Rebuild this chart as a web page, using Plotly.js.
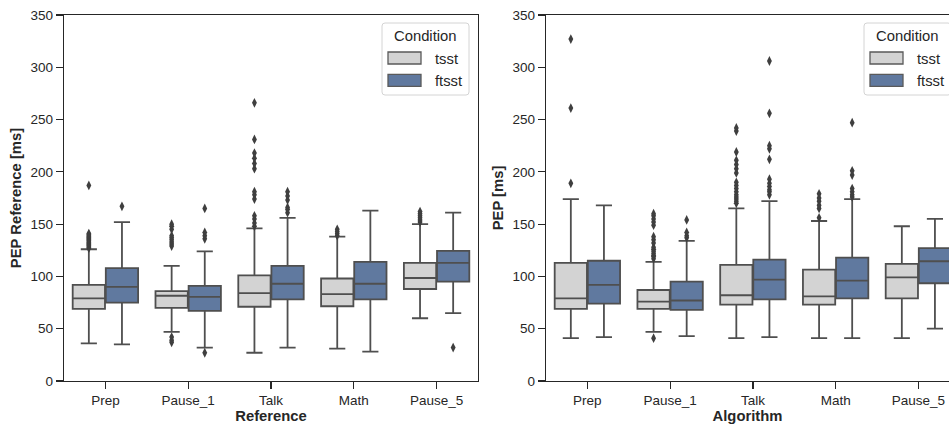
<!DOCTYPE html>
<html>
<head>
<meta charset="utf-8">
<script src="https://cdn.plot.ly/plotly-3.0.1.min.js"></script>
<style>
  html, body { margin: 0; padding: 0; background: #ffffff; }
  #chart { width: 949px; height: 428px; }
</style>
</head>
<body>
<div id="chart"></div>
<script>
// Phases of the protocol (x categories) and the two stress conditions
const categories = ['Prep', 'Pause_1', 'Talk', 'Math', 'Pause_5'];
const conditions = ['tsst', 'ftsst'];

// ---- Left panel: PEP from the reference, per phase ----
const refTsstLower  = [36, 47, 27, 31, 60];
const refTsstQ1     = [69, 70, 71, 71.5, 88];
const refTsstMedian = [79, 81.5, 84, 83, 98.5];
const refTsstQ3     = [92, 86, 101, 98, 113];
const refTsstUpper  = [126, 110, 146, 138, 150];
const refTsstOutliers = [
  [127, 128, 129, 130, 131, 132, 133, 134, 135, 136, 137, 138, 139, 140, 141, 187],
  [37, 39, 42, 129, 131, 133, 135, 137, 139, 145, 148, 150],
  [148, 151, 155, 158, 174, 178, 181, 203, 208, 213, 218, 231, 266],
  [139, 141, 143, 145],
  [152, 154, 156, 158, 160, 162]
];

const refFtsstLower  = [35, 32, 32, 28, 65];
const refFtsstQ1     = [75, 67, 78, 78, 95];
const refFtsstMedian = [90, 80.5, 93, 93, 113];
const refFtsstQ3     = [108, 91, 110, 114, 124.5];
const refFtsstUpper  = [152, 124, 156, 163, 161];
const refFtsstOutliers = [
  [167],
  [27, 136, 139, 142, 165],
  [161, 164, 166, 173, 177, 181],
  [],
  [32]
];

// ---- Right panel: PEP from the algorithm, per phase ----
const algTsstLower  = [41, 47, 41, 41, 41];
const algTsstQ1     = [69, 69, 73, 73, 79];
const algTsstMedian = [79, 76, 82, 81, 99];
const algTsstQ3     = [113, 87, 111, 106.5, 112];
const algTsstUpper  = [174, 114, 165, 153, 148];
const algTsstOutliers = [
  [189, 261, 327],
  [41, 117, 119, 120, 122, 124, 126, 128, 132, 135, 138, 149, 152, 155, 158, 160],
  [170, 172, 174, 176, 178, 181, 184, 187, 190, 199, 203, 207, 211, 219, 239, 242],
  [156, 165, 168, 172, 175, 179],
  []
];

const algFtsstLower  = [42, 43, 42, 41, 50];
const algFtsstQ1     = [74, 68, 78, 79, 93.5];
const algFtsstMedian = [92, 77, 97, 96, 114.5];
const algFtsstQ3     = [115, 95, 116, 118, 127];
const algFtsstUpper  = [168, 134, 172, 174, 155];
const algFtsstOutliers = [
  [],
  [137, 139, 142, 154],
  [178, 181, 183, 186, 189, 193, 212, 222, 225, 256, 306],
  [176, 178, 181, 184, 197, 201, 247],
  []
];

// ---- Styling ----
const W = 949, H = 428;
const FONT = 'Liberation Sans, Arial, Helvetica, sans-serif';
const TEXT = '#262626';
const EDGE = '#4f4f4f';
const FILLS = { tsst: '#d3d3d3', ftsst: '#60799f' };
const OFFSET = { tsst: -0.2, ftsst: 0.2 };

const px = x => x / W;          // pixel -> paper x
const py = y => 1 - y / H;      // pixel -> paper y

function boxTrace(cond, xa, ya, lower, q1, med, q3, upper) {
  return {
    type: 'box',
    name: cond,
    x: categories.map((_, i) => i + OFFSET[cond]),
    lowerfence: lower, q1: q1, median: med, q3: q3, upperfence: upper,
    width: 0.39,
    whiskerwidth: 0.5,
    boxpoints: false,
    fillcolor: FILLS[cond],
    line: { color: EDGE, width: 1.8 },
    xaxis: xa, yaxis: ya,
    showlegend: false,
    hoverinfo: 'skip'
  };
}

function outlierTrace(cond, xa, ya, outliers) {
  const xs = [], ys = [];
  outliers.forEach((vals, i) => vals.forEach(v => { xs.push(i + OFFSET[cond]); ys.push(v); }));
  return {
    type: 'scatter', mode: 'markers',
    x: xs, y: ys,
    marker: { symbol: 'diamond-tall', size: 7, color: '#3f3f3f', line: { width: 0 } },
    xaxis: xa, yaxis: ya,
    showlegend: false, hoverinfo: 'skip', cliponaxis: true
  };
}

const traces = [
  boxTrace('tsst', 'x', 'y', refTsstLower, refTsstQ1, refTsstMedian, refTsstQ3, refTsstUpper),
  boxTrace('ftsst', 'x', 'y', refFtsstLower, refFtsstQ1, refFtsstMedian, refFtsstQ3, refFtsstUpper),
  outlierTrace('tsst', 'x', 'y', refTsstOutliers),
  outlierTrace('ftsst', 'x', 'y', refFtsstOutliers),
  boxTrace('tsst', 'x2', 'y2', algTsstLower, algTsstQ1, algTsstMedian, algTsstQ3, algTsstUpper),
  boxTrace('ftsst', 'x2', 'y2', algFtsstLower, algFtsstQ1, algFtsstMedian, algFtsstQ3, algFtsstUpper),
  outlierTrace('tsst', 'x2', 'y2', algTsstOutliers),
  outlierTrace('ftsst', 'x2', 'y2', algFtsstOutliers)
];

const yDomain = [1 - 381 / H, 1 - 15 / H];

function xAxis(domain, range, title) {
  return {
    domain: domain, range: range, type: 'linear',
    tickvals: categories.map((_, i) => i), ticktext: categories,
    showline: true, mirror: true, linecolor: TEXT, linewidth: 1.25,
    ticks: 'outside', ticklen: 7, tickwidth: 1.25, tickcolor: TEXT,
    showgrid: false, zeroline: false, fixedrange: true,
    tickfont: { family: FONT, size: 13.5, color: TEXT },
    title: { text: title, font: { family: FONT, size: 14.8, color: TEXT, weight: 'bold' }, standoff: 2 }
  };
}
function yAxis(anchor, title) {
  return {
    domain: yDomain, range: [0, 350], anchor: anchor,
    tickvals: [0, 50, 100, 150, 200, 250, 300, 350],
    showline: true, mirror: true, linecolor: TEXT, linewidth: 1.25,
    ticks: 'outside', ticklen: 7, tickwidth: 1.25, tickcolor: TEXT,
    showgrid: false, zeroline: false, fixedrange: true,
    tickfont: { family: FONT, size: 13.5, color: TEXT },
    title: { text: title, font: { family: FONT, size: 14.8, color: TEXT, weight: 'bold' }, standoff: 5 }
  };
}

// Legend box ("Condition") for each panel, placed in pixels from its left edge
const shapes = [], annotations = [];
function legendAt(x0) {
  const left = x0, right = x0 + 87, top = 23, bottom = 95, r = 3;
  const path = [
    `M${px(left + r)},${py(top)}`, `L${px(right - r)},${py(top)}`,
    `Q${px(right)},${py(top)} ${px(right)},${py(top + r)}`,
    `L${px(right)},${py(bottom - r)}`,
    `Q${px(right)},${py(bottom)} ${px(right - r)},${py(bottom)}`,
    `L${px(left + r)},${py(bottom)}`,
    `Q${px(left)},${py(bottom)} ${px(left)},${py(bottom - r)}`,
    `L${px(left)},${py(top + r)}`,
    `Q${px(left)},${py(top)} ${px(left + r)},${py(top)}`, 'Z'
  ].join(' ');
  shapes.push({ type: 'path', xref: 'paper', yref: 'paper', path: path,
    fillcolor: 'rgba(255,255,255,0.8)', line: { color: '#d4d4d4', width: 1 }, layer: 'above' });
  annotations.push({ xref: 'paper', yref: 'paper', x: px(x0 + 43.7), y: py(35.7),
    xanchor: 'center', yanchor: 'middle', showarrow: false, text: 'Condition',
    font: { family: FONT, size: 14.8, color: TEXT } });
  conditions.forEach((cond, k) => {
    const cy = 58 + k * 22.4;
    shapes.push({ type: 'rect', xref: 'paper', yref: 'paper',
      x0: px(x0 + 6), x1: px(x0 + 39), y0: py(cy - 6), y1: py(cy + 6),
      fillcolor: FILLS[cond], line: { color: '#5a5a5a', width: 1.3 }, layer: 'above' });
    annotations.push({ xref: 'paper', yref: 'paper', x: px(x0 + 51), y: py(cy + 0.5),
      xanchor: 'left', yanchor: 'middle', showarrow: false, text: cond,
      font: { family: FONT, size: 14.8, color: TEXT } });
  });
}
legendAt(382);
legendAt(864);

const layout = {
  width: W, height: H,
  margin: { l: 0, r: 0, t: 0, b: 0, pad: 0 },
  paper_bgcolor: '#ffffff', plot_bgcolor: '#ffffff',
  showlegend: false,
  xaxis: xAxis([64 / W, 478 / W], [-0.5, 4.5], 'Reference'),
  yaxis: yAxis('x', 'PEP Reference [ms]'),
  xaxis2: Object.assign(xAxis([546 / W, 1], [-0.5, 4.37], 'Algorithm'), { anchor: 'y2' }),
  yaxis2: yAxis('x2', 'PEP [ms]'),
  shapes: shapes,
  annotations: annotations
};
layout.xaxis.anchor = 'y';

Plotly.newPlot('chart', traces, layout, { staticPlot: true, displayModeBar: false });
</script>
</body>
</html>
